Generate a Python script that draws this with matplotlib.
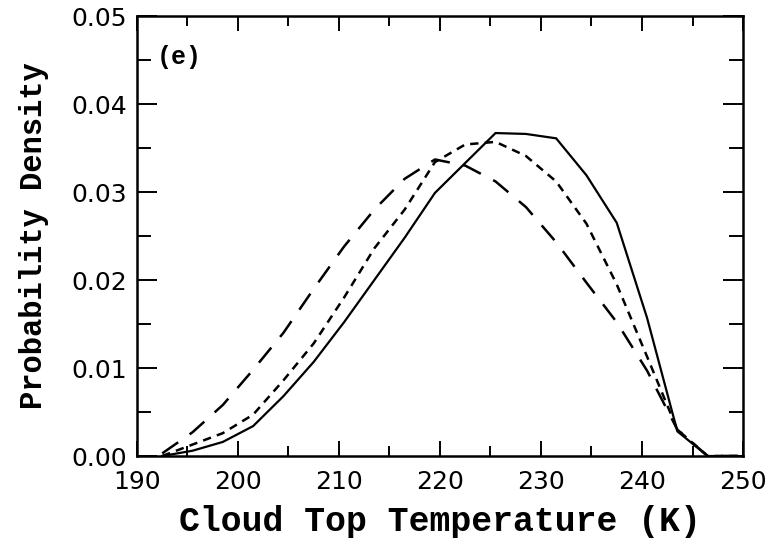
import matplotlib
matplotlib.use("Agg")
import matplotlib.pyplot as plt
from matplotlib.ticker import MultipleLocator, FormatStrFormatter

# Cloud top temperature bins (K) and the three probability density curves
temperature = [192.5, 195.5, 198.5, 201.5, 204.5, 207.5, 210.5, 213.5, 216.5,
               219.5, 222.5, 225.5, 228.5, 231.5, 234.5, 237.5, 240.5, 243.5,
               246.5, 249.5]
pdf_solid = [0.0000, 0.0006, 0.0016, 0.0034, 0.0068, 0.0107, 0.0152, 0.0200,
             0.0248, 0.0299, 0.0333, 0.0367, 0.0366, 0.0361, 0.0319, 0.0265,
             0.0157, 0.0028, 0.0000, 0.0000]
pdf_short = [0.0000, 0.0013, 0.0026, 0.0047, 0.0086, 0.0128, 0.0180, 0.0236,
             0.0280, 0.0334, 0.0354, 0.0357, 0.0341, 0.0312, 0.0264, 0.0195,
             0.0113, 0.0030, 0.0000, 0.0000]
pdf_long = [0.0003, 0.0027, 0.0058, 0.0098, 0.0140, 0.0190, 0.0238, 0.0280,
            0.0315, 0.0337, 0.0330, 0.0312, 0.0283, 0.0243, 0.0197, 0.0152,
            0.0097, 0.0030, 0.0000, 0.0000]

panel_label = "(e)"
xlabel = "Cloud Top Temperature (K)"
ylabel = "Probability Density"

plt.rcParams["lines.scale_dashes"] = False
label_font = ["Liberation Mono", "DejaVu Sans Mono"]

fig = plt.figure(figsize=(7.73, 5.41), dpi=100)
ax = fig.add_axes([0.1772, 0.1571, 0.784, 0.8133])

ax.plot(temperature, pdf_solid, color="black", lw=1.6, solid_joinstyle="miter")
ax.plot(temperature, pdf_short, color="black", lw=1.8, dashes=(6, 4.5))
ax.plot(temperature, pdf_long, color="black", lw=1.8, dashes=(14, 10))

ax.set_xlim(190, 250)
ax.set_ylim(0, 0.05)
ax.xaxis.set_major_locator(MultipleLocator(10))
ax.xaxis.set_minor_locator(MultipleLocator(5))
ax.yaxis.set_major_locator(MultipleLocator(0.01))
ax.yaxis.set_minor_locator(MultipleLocator(0.005))
ax.yaxis.set_major_formatter(FormatStrFormatter("%.2f"))

for side in ax.spines.values():
    side.set_linewidth(1.8)

ax.tick_params(axis="both", which="both", direction="in", color="black",
               width=1.4, top=True, right=True)
ax.tick_params(axis="x", which="major", length=10.5, pad=10)
ax.tick_params(axis="x", which="minor", length=7)
ax.tick_params(axis="y", which="major", length=14.4, pad=7)
ax.tick_params(axis="y", which="minor", length=10)
for lab in ax.get_xticklabels() + ax.get_yticklabels():
    lab.set_fontfamily("DejaVu Sans")
    lab.set_fontsize(18)

ax.set_xlabel(xlabel, family=label_font, fontweight="bold", fontsize=25,
              labelpad=8)
ax.set_ylabel(ylabel, family=label_font, fontweight="bold", fontsize=22,
              labelpad=16)
ax.text(0.033, 0.907, panel_label, transform=ax.transAxes, ha="left",
        va="center", family=label_font, fontweight="bold", fontsize=18)

fig.savefig("out.png", dpi=100)
